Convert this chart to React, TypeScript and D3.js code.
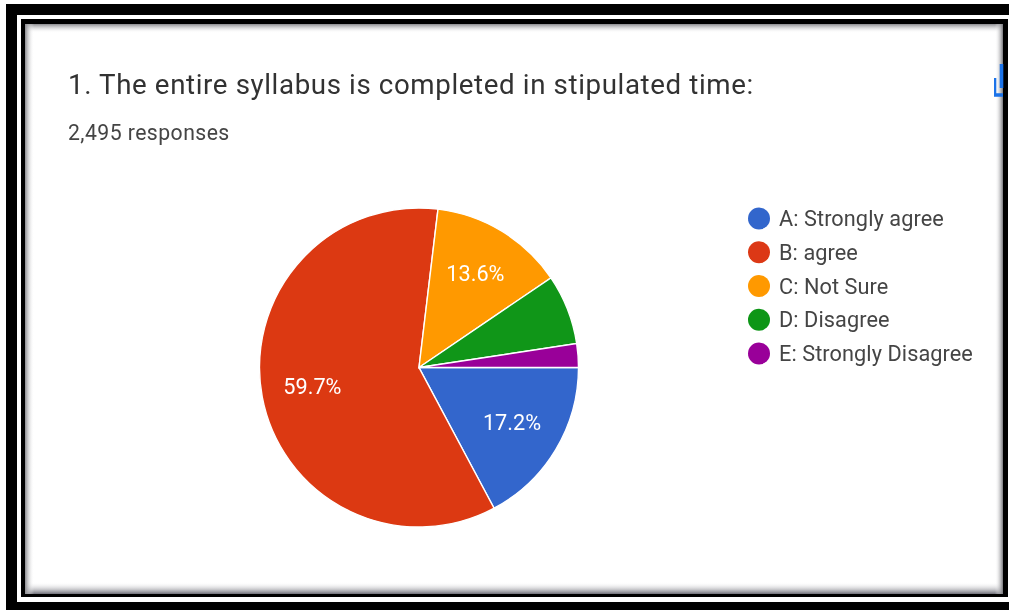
import React from "react";
import * as d3 from "d3";

const categories = ["A: Strongly agree", "B: agree", "C: Not Sure", "D: Disagree", "E: Strongly Disagree"];
const values = [17.2, 59.7, 13.6, 7.1, 2.4];
const sliceLabels = ["17.2%", "59.7%", "13.6%", "", ""];
const colors = ["#3366cc", "#dc3912", "#ff9900", "#109618", "#990099"];
const title = "1. The entire syllabus is completed in stipulated time:";
const subtitle = "2,495 responses";

const W = 1009, H = 610;
const cx = 419, cy = 367.5, R = 159.5;
const font = "Roboto, Arial, sans-serif";

export default function App() {
  const pie = d3.pie<number>().sort(null).startAngle(Math.PI / 2).endAngle(Math.PI * 2.5);
  const arcs = pie(values);
  const arc = d3.arc<d3.PieArcDatum<number>>().innerRadius(0).outerRadius(R);
  const labelArc = d3.arc<d3.PieArcDatum<number>>().innerRadius(R * 0.68).outerRadius(R * 0.68);
  const legendY = d3.scalePoint<string>().domain(categories).range([218.5, 353.5]);
  return (
    <svg width={W} height={H} viewBox={`0 0 ${W} ${H}`} style={{ position: "fixed", left: 0, top: 0, background: "#fff" }}>
      <defs>
        <linearGradient id="sl" x1="0" x2="1" y1="0" y2="0">
          <stop offset="0" stopColor="#8a8a8e" /><stop offset="1" stopColor="#fff" stopOpacity="0" />
        </linearGradient>
        <linearGradient id="sr" x1="1" x2="0" y1="0" y2="0">
          <stop offset="0" stopColor="#77777c" /><stop offset="1" stopColor="#fff" stopOpacity="0" />
        </linearGradient>
        <linearGradient id="st" x1="0" x2="0" y1="0" y2="1">
          <stop offset="0" stopColor="#8a8a8e" /><stop offset="1" stopColor="#fff" stopOpacity="0" />
        </linearGradient>
        <linearGradient id="sb" x1="0" x2="0" y1="1" y2="0">
          <stop offset="0" stopColor="#6f6f78" /><stop offset="1" stopColor="#fff" stopOpacity="0" />
        </linearGradient>
        <filter id="soft" x="-5%" y="-20%" width="110%" height="140%">
          <feGaussianBlur stdDeviation="0.4" />
        </filter>
      </defs>

      <rect x={0} y={0} width={W} height={H} fill="#fff" />
      <rect x={6} y={4} width={W - 6} height={H - 4} fill="#000" />
      <rect x={17} y={15} width={W - 17} height={587} fill="#fff" />
      <rect x={21} y={19} width={987} height={578} fill="#000" />
      <rect x={25} y={24} width={978} height={570} fill="#fff" />
      <rect x={25} y={24} width={978} height={9} fill="url(#st)" />
      <rect x={25} y={582} width={978} height={12} fill="url(#sb)" />
      <rect x={25} y={24} width={9} height={570} fill="url(#sl)" />
      <rect x={995} y={24} width={8} height={570} fill="url(#sr)" />

      <g filter="url(#soft)">
        <text x={68} y={93.5} fontFamily={font} fontSize={27.7} fill="#333" letterSpacing={0.62}>{title}</text>
        <text x={68} y={140} fontFamily={font} fontSize={21.2} fill="#444" letterSpacing={0.45}>{subtitle}</text>
      </g>

      <g fill="none" stroke="#1a73e8" strokeWidth={3.6} filter="url(#soft)">
        <path d="M994.5 78 V95 H1003" />
        <path d="M1001.5 64 V88" />
      </g>

      <g>
        {arcs.map((a, i) => (
          <path key={categories[i]} d={arc(a) ?? ""} transform={`translate(${cx},${cy})`} fill={colors[i]} stroke="#fff" strokeWidth={1.4} />
        ))}
        {arcs.map((a, i) => {
          if (!sliceLabels[i]) return null;
          const [x, y] = labelArc.centroid(a);
          return (
            <text key={sliceLabels[i]} x={cx + x} y={cy + y - 1} dy="0.35em" textAnchor="middle" fontFamily={font} fontSize={21.7} fill="#fff" filter="url(#soft)">
              {sliceLabels[i]}
            </text>
          );
        })}
      </g>

      <g filter="url(#soft)">
        {categories.map((c, i) => (
          <g key={c}>
            <circle cx={759} cy={legendY(c)} r={11} fill={colors[i]} />
            <text x={779} y={legendY(c)} dy="0.35em" fontFamily={font} fontSize={21.7} fill="#444" letterSpacing={0.08}>{c}</text>
          </g>
        ))}
      </g>
    </svg>
  );
}
